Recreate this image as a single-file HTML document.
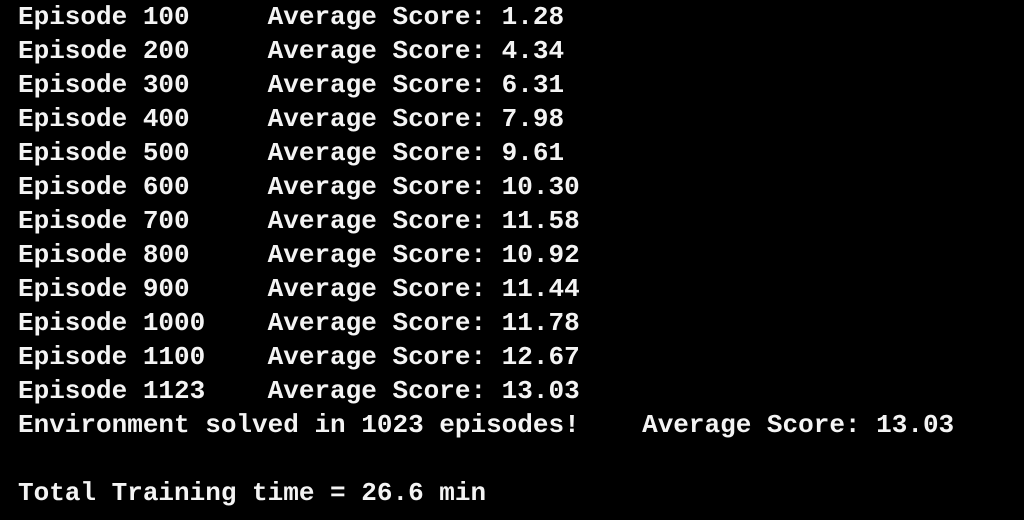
<!DOCTYPE html>
<html>
<head>
<meta charset="utf-8">
<style>
  html,body{margin:0;padding:0;background:#000;width:1024px;height:520px;overflow:hidden;}
  pre{
    margin:0;position:absolute;left:18px;top:0;
    font-family:"Liberation Mono",monospace;font-size:26px;line-height:34px;
    font-weight:bold;color:#f4f4f4;white-space:pre;
  }
  .line{display:block;height:34px;}
</style>
</head>
<body>
<pre><span class="line">Episode 100     Average Score: 1.28</span><span class="line">Episode 200     Average Score: 4.34</span><span class="line">Episode 300     Average Score: 6.31</span><span class="line">Episode 400     Average Score: 7.98</span><span class="line">Episode 500     Average Score: 9.61</span><span class="line">Episode 600     Average Score: 10.30</span><span class="line">Episode 700     Average Score: 11.58</span><span class="line">Episode 800     Average Score: 10.92</span><span class="line">Episode 900     Average Score: 11.44</span><span class="line">Episode 1000    Average Score: 11.78</span><span class="line">Episode 1100    Average Score: 12.67</span><span class="line">Episode 1123    Average Score: 13.03</span><span class="line">Environment solved in 1023 episodes!    Average Score: 13.03</span><span class="line"> </span><span class="line">Total Training time = 26.6 min</span></pre>
</body>
</html>
